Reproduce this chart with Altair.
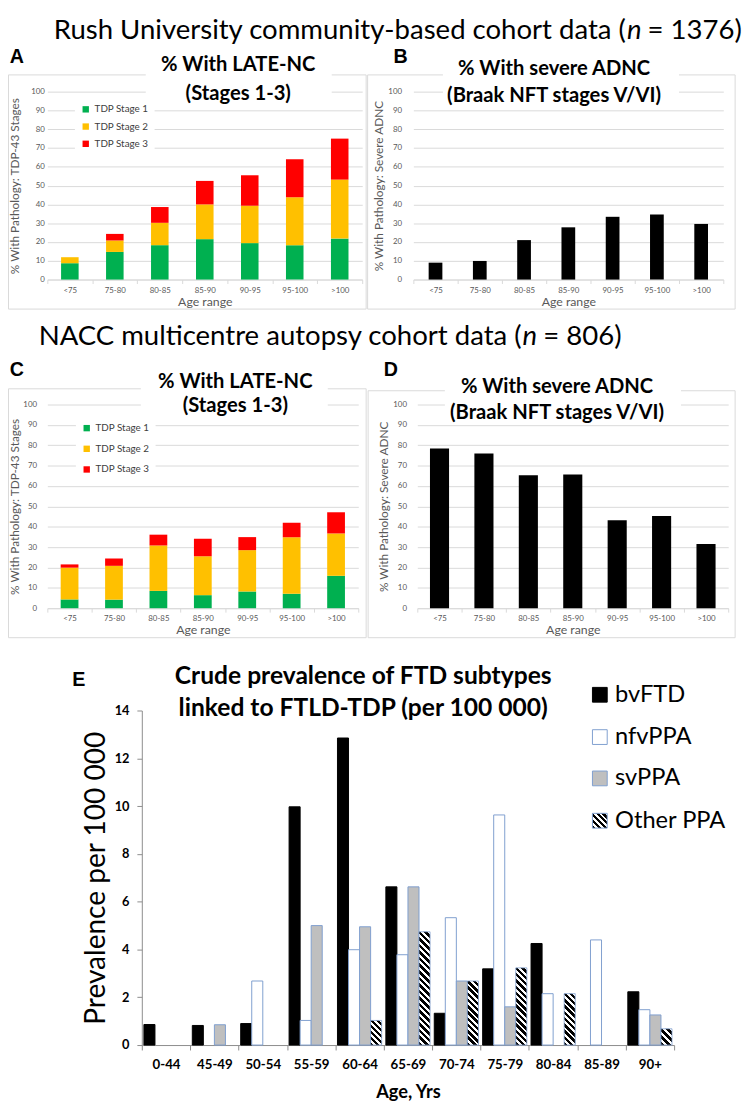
import altair as alt
import pandas as pd

# ---------------- data ----------------
ages = ["<75", "75-80", "80-85", "85-90", "90-95", "95-100", ">100"]
stage_names = ["TDP Stage 1", "TDP Stage 2", "TDP Stage 3"]
stage_colors = ["#00b050", "#ffc000", "#ff0000"]

# segment sizes (percent)
rush_stage1 = [8.7, 14.7, 18.3, 21.5, 19.4, 18.3, 21.8]
rush_stage2 = [3.2, 6.1, 11.9, 18.5, 19.9, 25.5, 31.4]
rush_stage3 = [0.0, 3.5, 8.4, 12.5, 16.2, 20.2, 21.8]
rush_severe_adnc = [9.0, 9.9, 21.0, 27.8, 33.4, 34.6, 29.6]

nacc_stage1 = [4.3, 4.2, 8.5, 6.4, 8.2, 7.1, 15.9]
nacc_stage2 = [15.6, 16.6, 22.3, 19.1, 20.3, 27.7, 20.8]
nacc_stage3 = [1.6, 3.6, 5.3, 8.6, 6.4, 7.2, 10.4]
nacc_severe_adnc = [78.4, 76.0, 65.3, 65.6, 43.2, 45.3, 31.5]

age_groups = ["0-44", "45-49", "50-54", "55-59", "60-64", "65-69",
              "70-74", "75-79", "80-84", "85-89", "90+"]
subtypes = ["bvFTD", "nfvPPA", "svPPA", "Other PPA"]
bvftd = [0.86, 0.82, 0.90, 9.97, 12.85, 6.62, 1.33, 3.19, 4.25, 0.0, 2.23]
nfvppa = [0.0, 0.0, 2.68, 1.03, 3.99, 3.78, 5.33, 9.63, 2.15, 4.40, 1.48]
svppa = [0.0, 0.85, 0.0, 5.00, 4.95, 6.62, 2.68, 1.60, 0.0, 0.0, 1.26]
other_ppa = [0.0, 0.0, 0.0, 0.0, 1.03, 4.74, 2.68, 3.23, 2.15, 0.0, 0.68]

# ---------------- style ----------------
FONT = "Lato"
LETTER_FONT = "Liberation Sans"
GRID = "#d9d9d9"
TXT = "#595959"
EDGE = "#7f9fcf"
TITLE_SIZE = 20.5
one = pd.DataFrame({"k": [0]})


def vrect(x1, x2, y1, y2, **kw):
    return alt.Chart(one).mark_rect(**kw).encode(
        x=alt.value(x1), x2=alt.value(x2), y=alt.value(y1), y2=alt.value(y2))


def vtext(txt, x, y, **kw):
    return alt.Chart(one).mark_text(text=txt, **kw).encode(
        x=alt.value(x), y=alt.value(y))


def stripe_gradient(w, h, period=4.6):
    gx, gy = 1.0, -h / w
    t = (1.0 - gy) / (gx * gx + gy * gy)
    x2, y2 = t * gx, 1 + t * gy
    n = max(1, round((w + h) / (2 ** 0.5 * period)))
    stops = []
    for k in range(n):
        a, b, c = k / n, (k + 0.55) / n, (k + 1) / n
        stops += [{"offset": a, "color": "black"}, {"offset": b, "color": "black"},
                  {"offset": b, "color": "white"}, {"offset": c, "color": "white"}]
    return {"gradient": "linear", "x1": 0, "y1": 1, "x2": x2, "y2": y2, "stops": stops}


def small_x_axis():
    return alt.Axis(title="Age range", tickBand="extent", labelAngle=0, labelFont=FONT,
                    labelFontSize=8, labelColor=TXT, labelPadding=3, domainColor=GRID,
                    tickColor=GRID, tickSize=4, titleFont=FONT, titleFontSize=12.5,
                    titleFontWeight="normal", titleColor=TXT, titleY=22,
                    titleBaseline="middle")


def small_y_axis(title, h, lpad, tx):
    return alt.Axis(values=list(range(0, 101, 10)), grid=True, gridColor=GRID, domain=False,
                    ticks=False, labelFont=FONT, labelFontSize=8, labelColor=TXT,
                    labelPadding=lpad, title=title, titleFont=FONT, titleFontSize=12,
                    titleFontWeight="normal", titleColor=TXT, titleAngle=270, titleX=tx,
                    titleY=h / 2, titleAlign="center", titleBaseline="middle")


def decorations(frame, box, bg, letter, lx, ly, lines, tx, ty1, ty2):
    tkw = dict(font=FONT, fontSize=TITLE_SIZE, fontWeight="bold", color="black",
               align="center", baseline="alphabetic")
    return [
        vrect(*frame, opacity=0),
        vrect(*box, fillOpacity=0, stroke=GRID, strokeWidth=1),
    ], [
        vrect(*bg, color="white"),
        vtext(lines[0], tx, ty1, **tkw),
        vtext(lines[1], tx, ty2, **tkw),
        vtext(letter, lx, ly, font=LETTER_FONT, fontSize=20, fontWeight="bold", color="black",
              align="center", baseline="alphabetic"),
    ]


def stacked_panel(s1, s2, s3, w, h, band, lpad, tx, legend_x, legend_y, row_pad, deco):
    rows = []
    for i, a in enumerate(ages):
        for j, arr in enumerate([s1, s2, s3]):
            if arr[i] > 0:
                rows.append({"age": a, "stage": stage_names[j], "ord": j, "value": arr[i]})
    df = pd.DataFrame(rows)
    bars = alt.Chart(df).mark_bar(width={"band": band}).encode(
        x=alt.X("age:N", sort=ages, scale=alt.Scale(domain=ages, paddingInner=0, paddingOuter=0),
                axis=small_x_axis()),
        y=alt.Y("value:Q", stack="zero", scale=alt.Scale(domain=[0, 100], nice=False),
                axis=small_y_axis("% With Pathology:  TDP-43 Stages", h, lpad, tx)),
        color=alt.Color("stage:N", scale=alt.Scale(domain=stage_names, range=stage_colors),
                        legend=alt.Legend(orient="none", legendX=legend_x, legendY=legend_y,
                                          title=None, fillColor="white", padding=6,
                                          symbolType="square", symbolSize=42,
                                          symbolStrokeWidth=0, labelFont=FONT,
                                          labelFontSize=10, labelColor="#404040",
                                          rowPadding=row_pad, labelOffset=4)),
        order=alt.Order("ord:Q", sort="ascending"),
    )
    under, over = deco
    return alt.layer(*under, bars, *over).properties(width=w, height=h)


def single_panel(vals, w, h, band, lpad, tx, deco):
    df = pd.DataFrame({"age": ages, "value": vals})
    bars = alt.Chart(df).mark_bar(width={"band": band}, color="black").encode(
        x=alt.X("age:N", sort=ages, scale=alt.Scale(domain=ages, paddingInner=0, paddingOuter=0),
                axis=small_x_axis()),
        y=alt.Y("value:Q", scale=alt.Scale(domain=[0, 100], nice=False),
                axis=small_y_axis("% With Pathology: Severe ADNC", h, lpad, tx)),
    )
    under, over = deco
    return alt.layer(*under, bars, *over).properties(width=w, height=h)


def header(part1, part3, nx, height, base_y):
    kw = dict(font=FONT, fontSize=28, color="black", baseline="alphabetic")
    return alt.layer(
        vrect(-40, 700, 0, height, opacity=0),
        vtext(part1, nx, base_y, align="right", **kw),
        vtext("n", nx + 1, base_y, align="left", fontStyle="italic", **kw),
        vtext(part3, nx + 22, base_y, align="left", **kw),
    ).properties(width=700, height=height)


# ---------------- panels A-D ----------------
late_lines = ["% With LATE-NC", "(Stages 1-3)"]
adnc_lines = ["% With severe ADNC", "(Braak NFT stages V/VI)"]

A = stacked_panel(
    rush_stage1, rush_stage2, rush_stage3, w=320, h=191, band=0.39, lpad=3, tx=-33,
    legend_x=28, legend_y=7, row_pad=7.5,
    deco=decorations(frame=(-40, 325, -47, 226), box=(-39.5, 324, -17, 221),
                     bg=(100, 289, -44, 14), letter="A", lx=-31, ly=-29,
                     lines=late_lines, tx=194, ty1=-21, ty2=8))
B = single_panel(
    rush_severe_adnc, w=315, h=191, band=0.31, lpad=12, tx=-35,
    deco=decorations(frame=(-47, 328, -47, 226), box=(-46.5, 327, -17, 221),
                     bg=(30, 270, -44, 14), letter="B", lx=-13, ly=-29,
                     lines=adnc_lines, tx=143, ty1=-17, ty2=11))
C = stacked_panel(
    nacc_stage1, nacc_stage2, nacc_stage3, w=316, h=207, band=0.40, lpad=11, tx=-33,
    legend_x=29, legend_y=13, row_pad=11,
    deco=decorations(frame=(-40, 325, -52, 244), box=(-39.5, 324, -16, 237),
                     bg=(95, 285, -46, 12), letter="C", lx=-31, ly=-29,
                     lines=late_lines, tx=191, ty1=-17, ty2=8))
D = single_panel(
    nacc_severe_adnc, w=316, h=207, band=0.43, lpad=11, tx=-34,
    deco=decorations(frame=(-51, 324, -52, 244), box=(-50, 323, -14, 237),
                     bg=(28, 268, -46, 12), letter="D", lx=-27, ly=-29,
                     lines=adnc_lines, tx=142, ty1=-12, ty2=15))

# ---------------- panel E ----------------
EW, EH = 541, 340
e_rows = []
for i, g in enumerate(age_groups):
    for s, arr in zip(subtypes[:3], [bvftd, nfvppa, svppa]):
        if arr[i] > 0:
            e_rows.append({"age": g, "subtype": s, "value": arr[i]})
edf = pd.DataFrame(e_rows)

ex_scale = alt.Scale(domain=age_groups, paddingInner=0, paddingOuter=0)
eoff_scale = alt.Scale(domain=subtypes, paddingInner=0, paddingOuter=0.19)
ey_scale = alt.Scale(domain=[0, 14], nice=False)
ex_axis = alt.Axis(title="Age, Yrs", tickBand="extent", labelAngle=0, labelFont=FONT,
                   labelFontWeight="bold", labelFontSize=13.5, labelColor="black",
                   labelPadding=8, domainColor="#8c8c8c", tickColor="#8c8c8c", tickSize=5,
                   titleFont=FONT, titleFontSize=18.5, titleFontWeight="bold", titleColor="black",
                   titleY=47, titleBaseline="middle", grid=False)
ey_axis = alt.Axis(values=list(range(0, 15, 2)), grid=False, domainColor="#8c8c8c",
                   tickColor="#8c8c8c", tickSize=5, labelFont=FONT, labelFontWeight="bold",
                   labelFontSize=13, labelColor="black", labelPadding=8,
                   title="Prevalence per 100 000", titleFont=FONT, titleFontSize=28.5,
                   titleFontWeight="normal", titleColor="black", titleAngle=270, titleX=-47,
                   titleY=EH / 2, titleAlign="center", titleBaseline="middle")

e_main = alt.Chart(edf).mark_bar(strokeWidth=1).encode(
    x=alt.X("age:N", sort=age_groups, scale=ex_scale, axis=ex_axis),
    xOffset=alt.XOffset("subtype:N", scale=eoff_scale),
    y=alt.Y("value:Q", scale=ey_scale, axis=ey_axis),
    fill=alt.Fill("subtype:N", scale=alt.Scale(domain=subtypes[:3],
                                               range=["black", "white", "#bfbfbf"]), legend=None),
    stroke=alt.Stroke("subtype:N", scale=alt.Scale(domain=subtypes[:3],
                                                   range=["black", EDGE, EDGE]), legend=None),
)

slot_w = EW / len(age_groups) / (len(subtypes) + 2 * 0.19)
other_layers = []
for i, g in enumerate(age_groups):
    v = other_ppa[i]
    if v <= 0:
        continue
    odf = pd.DataFrame({"age": [g], "subtype": ["Other PPA"], "value": [v]})
    grad = stripe_gradient(slot_w, v * EH / 14)
    other_layers.append(
        alt.Chart(odf).mark_bar(fill=grad, stroke=EDGE, strokeWidth=0.8).encode(
            x=alt.X("age:N", sort=age_groups, scale=ex_scale, axis=ex_axis),
            xOffset=alt.XOffset("subtype:N", scale=eoff_scale),
            y=alt.Y("value:Q", scale=ey_scale, axis=ey_axis),
        ))

leg_fill = ["black", "white", "#bfbfbf", None]
leg_stroke = ["black", EDGE, EDGE, EDGE]
leg_y = [-16, 27, 69, 112]
legend_layers = []
for s, f, st, cy in zip(subtypes, leg_fill, leg_stroke, leg_y):
    fill = f if f is not None else stripe_gradient(15, 15, period=4.0)
    legend_layers.append(vrect(458, 473, cy - 7.5, cy + 7.5, fill=fill, stroke=st, strokeWidth=1))
    legend_layers.append(vtext(s, 481, cy, font=FONT, fontSize=24, color="black",
                               align="left", baseline="middle"))

E = alt.layer(
    vrect(-80, 604, -67, 395, opacity=0),
    e_main, *other_layers, *legend_layers,
    vtext("Crude prevalence of FTD subtypes", 225, -27, font=FONT, fontSize=25,
          fontWeight="bold", color="black", align="center", baseline="alphabetic"),
    vtext("linked to FTLD-TDP (per 100 000)", 225, 6, font=FONT, fontSize=25,
          fontWeight="bold", color="black", align="center", baseline="alphabetic"),
    vtext("E", -64, -25, font=LETTER_FONT, fontSize=20, fontWeight="bold", color="black",
          align="center", baseline="alphabetic"),
).properties(width=EW, height=EH)

spacer = vrect(0, 16, 0, 1, opacity=0).properties(width=16, height=1)

# ---------------- assemble ----------------
H1 = header("Rush University community-based cohort data (", "= 1376)", 588, 29, 22)
H2 = header("NACC multicentre autopsy cohort data (", "= 806)", 482, 40, 32)

row1 = alt.hconcat(A, B, spacing=0).resolve_scale(color="independent")
row2 = alt.hconcat(C, D, spacing=0).resolve_scale(color="independent")
row3 = alt.hconcat(spacer, E, spacing=0)

chart = alt.vconcat(
    H1, row1, H2, row2, row3, spacing=0,
).resolve_scale(color="independent").properties(padding=0).configure_view(stroke=None)

chart.save("out.html", embed_options={"renderer": "svg", "actions": False})
